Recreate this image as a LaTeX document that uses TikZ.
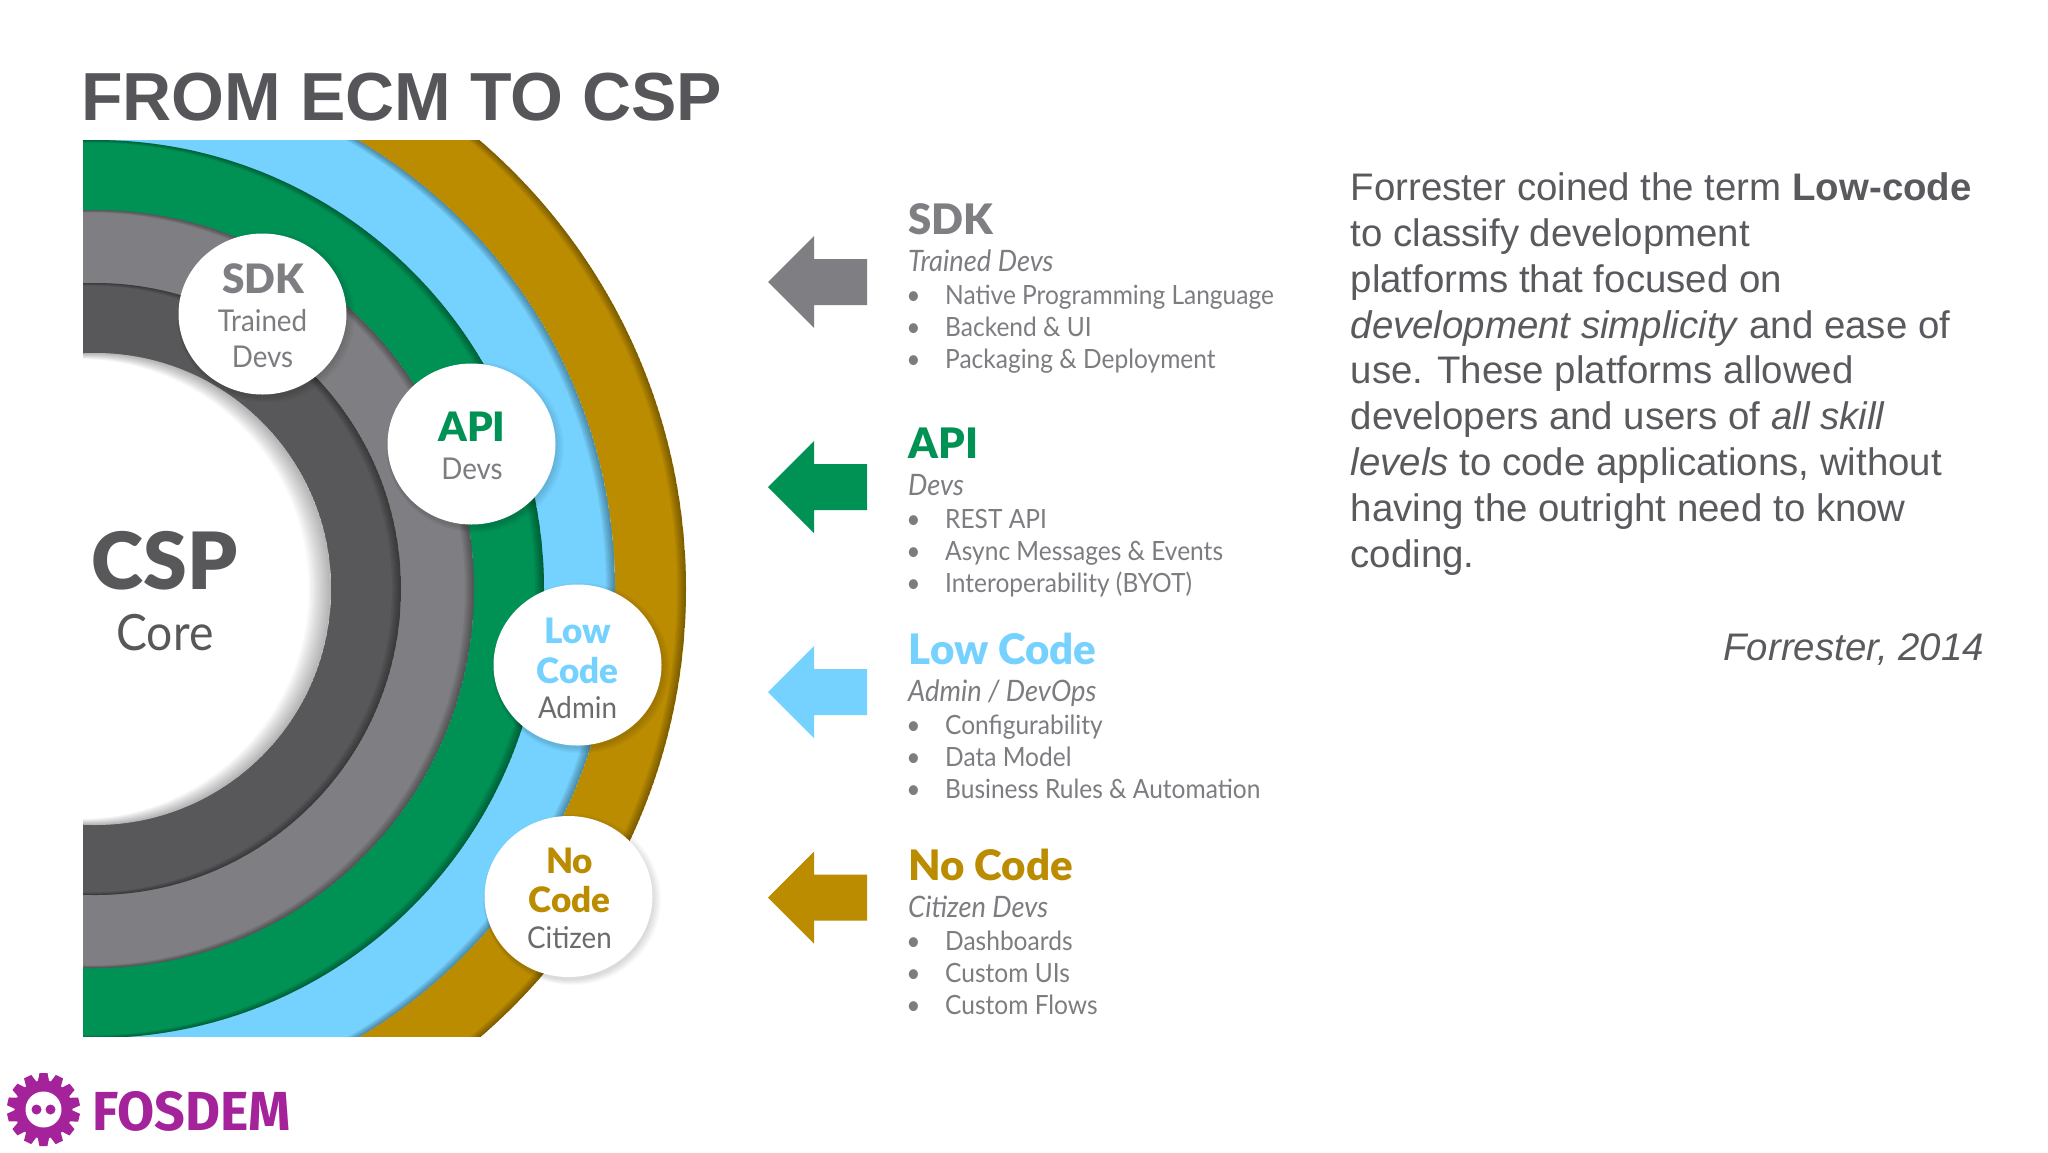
\documentclass[tikz,border=0pt]{standalone}
\usepackage{fontspec}
\setmainfont{Liberation Sans}
\newfontfamily\gill[FakeStretch=.925]{Lato}
\newfontfamily\gillb{Lato Black}
\newfontfamily\fos{Fira Sans}
\usetikzlibrary{shapes.geometric}
\definecolor{cgold}{HTML}{BB8C00}
\definecolor{cgreen}{HTML}{009155}
\definecolor{cblue}{HTML}{75D2FF}
\definecolor{cgrey}{HTML}{7F7E82}
\definecolor{cdark}{HTML}{58585A}
\definecolor{ctext}{HTML}{7D7C80}
\definecolor{cadmin}{HTML}{6B6B6E}
\definecolor{ctitle}{HTML}{56565A}
\definecolor{cbody}{HTML}{5A5A5E}
\definecolor{cpurple}{HTML}{A4239A}
\newcommand\px[1]{\fontsize{#1}{#1}\selectfont}
\tikzset{
  lbl/.style={inner sep=0pt,anchor=base,font=\gill},
  chead/.style={lbl,font=\gillb\px{40.5}},
  cheads/.style={lbl,font=\gillb\px{35}},
  csub/.style={lbl,font=\gill\px{30},text=ctext},
  shead/.style={inner sep=0pt,anchor=base west,font=\gillb\px{42}},
  ssub/.style={inner sep=0pt,anchor=base west,font=\gill\itshape\px{29.5},text=ctext},
  sitem/.style={inner sep=0pt,anchor=base west,font=\gill\px{26.5},text=ctext},
  sbul/.style={inner sep=0pt,anchor=base,font=\gill\px{26.5},text=ctext},
  badge/.style={ellipse,fill=white,inner sep=0pt,minimum width=168pt,minimum height=161pt},
}
\def\cx{95}\def\cy{589}
\newcommand\ringfill[2]{\fill[#2] (\cx,\cy) circle[radius=#1];
  \begin{scope}\clip (\cx,\cy) circle[radius=#1];
  \foreach \d in {1,...,5}{\fill[black,opacity=.07,even odd rule] (\cx,\cy) circle[radius=#1] (\cx-1.3*\d,\cy) circle[radius=#1-.5*\d];}
  \end{scope}}
\newcommand\softshadow[2]{\foreach \d in {0,...,5}{\fill[black,opacity=.025] (#1+1+.5*\d,#2+3) ellipse[x radius=84+\d,y radius=80.5+\d];}}
\newcommand\larrow[2]{\fill[#2] (768,#1) -- (814,#1-46) -- (814,#1-23) -- (867,#1-23) -- (867,#1+23) -- (814,#1+23) -- (814,#1+46) -- cycle;}
\newcommand\entry[8]{%
  \node[shead,text=#3] (#1h) at (908.5,#2+1) {#4};
  \node[ssub] (#1s) at (908,#2+38) {#5};
  \node[sitem] (#1a) at (945,#2+71) {#6};
  \node[sitem] (#1b) at (945,#2+103) {#7};
  \node[sitem] (#1c) at (945,#2+135) {#8};
  \node[sbul] (#1p) at (913.5,#2+71) {•};
  \node[sbul] (#1q) at (913.5,#2+103) {•};
  \node[sbul] (#1r) at (913.5,#2+135) {•};
}
\begin{document}
\begin{tikzpicture}[x=1pt,y=-1pt]
\useasboundingbox (0,0) rectangle (2048,1152);
\fill[white] (0,0) rectangle (2048,1152);
\node[inner sep=0pt,anchor=base west,text=ctitle,font=\bfseries\px{68}] (title) at (81,120.5) {FROM ECM TO CSP};
\begin{scope}
\clip (83,140) rectangle (720,1036);
\ringfill{591}{cgold}
\ringfill{520}{cblue}
\ringfill{449}{cgreen}
\ringfill{379}{cgrey}
\ringfill{306}{cdark}
\fill[white] (\cx,\cy) circle[radius=236];
\begin{scope}\clip (\cx,\cy) circle[radius=236];
\foreach \d in {1,...,10}{\fill[black,opacity=.03,even odd rule] (\cx,\cy) circle[radius=236] (\cx-1.6*\d,\cy) circle[radius=236-.6*\d];}
\end{scope}
\end{scope}
\softshadow{262.5}{314}
\softshadow{471.5}{444}
\softshadow{577.5}{665}
\softshadow{568.5}{896.5}
\node[badge] (bsdk) at (262.5,314) {};
\node[badge] (bapi) at (471.5,444) {};
\node[badge] (blow) at (577.5,665) {};
\node[badge] (bno) at (568.5,896.5) {};
\node[chead,text=cgrey] (t1) at (263,293) {SDK};
\node[csub] (t2) at (262.5,331.5) {Trained};
\node[csub] (t3) at (262.5,367.5) {Devs};
\node[chead,text=cgreen] (t4) at (472,441) {API};
\node[csub] (t5) at (472,479) {Devs};
\node[cheads,text=cblue] (t6) at (577.5,643) {Low};
\node[cheads,text=cblue] (t7) at (577.5,683) {Code};
\node[csub,text=cadmin] (t8) at (577.5,718) {Admin};
\node[cheads,text=cgold] (t9) at (569.5,873) {No};
\node[cheads,text=cgold] (t10) at (569.5,912.5) {Code};
\node[csub,text=cadmin] (t11) at (569.5,948) {Citizen};
\node[lbl,text=cdark,font=\gillb\px{79}] (csp) at (164.5,589) {CSP};
\node[lbl,text=cdark,font=\gill\px{50}] (core) at (165,650.5) {Core};
\larrow{282}{cgrey}
\larrow{487}{cgreen}
\larrow{692}{cblue}
\larrow{897.5}{cgold}
\entry{a}{233.7}{cgrey}{SDK}{Trained Devs}{Native Programming Language}{Backend \& UI}{Packaging \& Deployment}
\entry{b}{457.7}{cgreen}{API}{Devs}{REST API}{Async Messages \& Events}{Interoperability (BYOT)}
\entry{c}{663.4}{cblue}{Low Code}{Admin / DevOps}{Configurability}{Data Model}{Business Rules \& Automation}
\entry{d}{879}{cgold}{No Code}{Citizen Devs}{Dashboards}{Custom UIs}{Custom Flows}
\node[inner sep=0pt,anchor=north west,align=left,text=cbody,font=\fontsize{38.4}{45.9}\selectfont] (para) at (1350.5,172.3) {Forrester coined the term \textbf{Low-code}\\to classify development\\platforms that focused on\\\textit{development simplicity} and ease of\\use. These platforms allowed\\developers and users of \textit{all skill}\\\textit{levels} to code applications, without\\having the outright need to know\\coding.};
\node[inner sep=0pt,anchor=base east,text=cbody,font=\itshape\px{38.4}] (cite) at (1984,660.5) {Forrester, 2014};
% FOSDEM logo
\foreach \a in {0,25.7,...,340}{\fill[cpurple,rotate around={\a:(43.5,1109.5)}] (39.5,1073) -- (47.5,1073) -- (49.5,1083) -- (37.5,1083) -- cycle;}
\fill[cpurple] (43.5,1109.5) circle[radius=29];
\fill[white] (43.5,1109.5) circle[radius=18];
\fill[cpurple] (36.5,1109.5) circle[radius=5];
\fill[cpurple] (50.5,1109.5) circle[radius=5];
\node[inner sep=0pt,anchor=base west,text=cpurple,font=\fos\bfseries\px{55}] (fos) at (92,1130) {\scalebox{.978}[1]{FOSDEM}};
\end{tikzpicture}
\end{document}
